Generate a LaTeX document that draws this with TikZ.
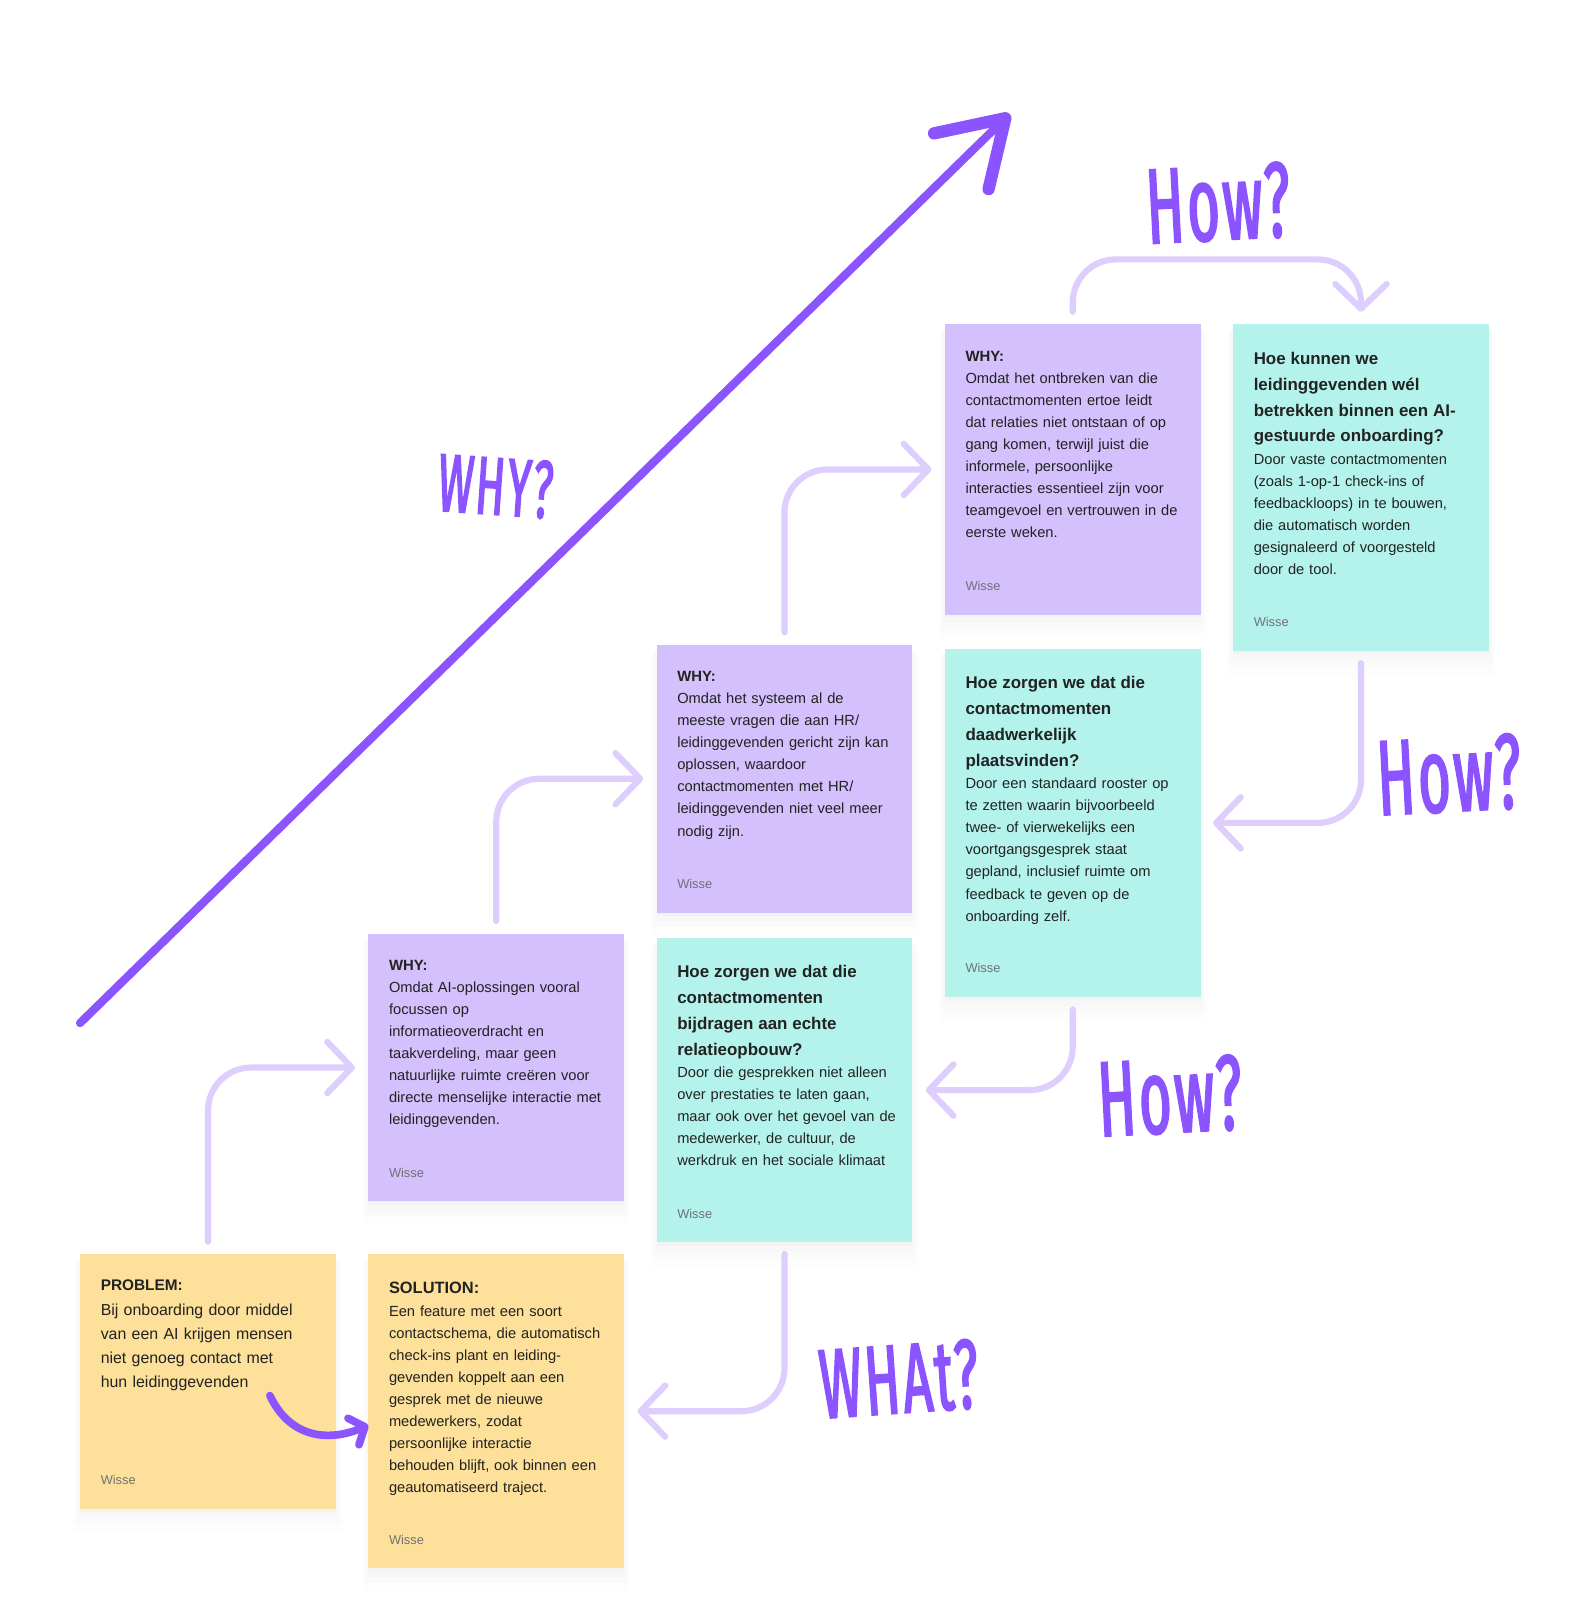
\documentclass[tikz,border=0pt]{standalone}
\usepackage{fontspec}
\setmainfont{Liberation Sans}
\newfontfamily\handfont[FakeStretch=0.52, FakeBold=1.8, LetterSpace=3]{Fira Sans}
\usetikzlibrary{arrows.meta, positioning, shadows}
\definecolor{noteyellow}{RGB}{253,224,153}
\definecolor{notepurple}{RGB}{211,192,252}
\definecolor{noteteal}{RGB}{180,243,236}
\definecolor{linkpurple}{RGB}{221,206,253}
\definecolor{markerpurple}{RGB}{139,84,255}
\definecolor{inkdark}{RGB}{34,34,34}
\definecolor{footgray}{RGB}{112,112,118}

\begin{document}
\begin{tikzpicture}[
    x=1pt, y=-1pt,
    note/.style={
        rectangle,
        anchor=north west,
        minimum width=249pt,
        inner sep=0pt,
        drop shadow={shadow xshift=0pt, shadow yshift=-15pt, shadow scale=1.05, opacity=0.012},
        drop shadow={shadow xshift=0pt, shadow yshift=-10pt, shadow scale=1.03, opacity=0.018},
        drop shadow={shadow xshift=0pt, shadow yshift=-6pt, shadow scale=1.015, opacity=0.025},
        drop shadow={shadow xshift=0pt, shadow yshift=-3pt, opacity=0.03}
    },
    yellownote/.style={note, fill=noteyellow},
    purplenote/.style={note, fill=notepurple},
    tealnote/.style={note, fill=noteteal},
    notetext/.style={
        anchor=base west,
        text width=240pt,
        align=left,
        inner sep=0pt,
        text=inkdark,
        font=\fontsize{14.3}{21.5}\selectfont
    },
    foot/.style={anchor=base west, inner sep=0pt, text=footgray, font=\fontsize{12.5}{15}\selectfont},
    link/.style={line width=6pt, linkpurple, line cap=round, rounded corners=42pt,
        -{Straight Barb[length=24pt, width=50pt, round]}},
    marker/.style={markerpurple, line width=8pt, line cap=round, line join=round},
    hand/.style={text=markerpurple, inner sep=0pt}
]
\useasboundingbox (0,0) rectangle (1546,1568);
\fill[white] (0,0) rectangle (1546,1568);

% ---------- notes ----------
\node[yellownote, minimum height=248pt] (problem) at (78,1222) {};
\node[yellownote, minimum height=306pt, right=31.5pt of problem.north east, anchor=north west] (solution) {};
\node[purplenote, minimum height=261pt, above=51pt of solution] (why1) {};
\node[tealnote, minimum height=297pt, right=31.5pt of why1.north east, anchor=north west, yshift=-4pt] (hoerel) {};
\node[purplenote, minimum height=261pt, above=24pt of hoerel] (why2) {};
\node[tealnote, minimum height=339pt, right=31.5pt of why2.north east, anchor=north west, yshift=-4pt] (hoeplaats) {};
\node[purplenote, minimum height=283pt, above=33pt of hoeplaats] (why3) {};
\node[tealnote, minimum height=318pt, right=31.5pt of why3.north east, anchor=north west] (hoekunnen) {};

% ---------- note texts ----------
\node[notetext, font=\fontsize{15.5}{23.5}\selectfont] (problemtxt) at ([shift={(20pt,-36pt)}]problem.north west)
    {{\bfseries\fontsize{15}{23.5}\selectfont PROBLEM:\par}
     Bij onboarding door middel\\ van een AI krijgen mensen\\ niet genoeg contact met\\ hun leidinggevenden};
\node[notetext] (solutiontxt) at ([shift={(20pt,-39pt)}]solution.north west)
    {{\bfseries\fontsize{16}{23}\selectfont SOLUTION:\par}
     Een feature met een soort\\ contactschema, die automatisch\\ check-ins plant en leiding-\\ gevenden koppelt aan een\\
     gesprek met de nieuwe\\ medewerkers, zodat\\ persoonlijke interactie\\ behouden blijft, ook binnen een\\ geautomatiseerd traject.};
\node[notetext] (why1txt) at ([shift={(20pt,-36pt)}]why1.north west)
    {{\bfseries\fontsize{14.5}{23}\selectfont WHY:\par}
     Omdat AI-oplossingen vooral\\ focussen op\\ informatieoverdracht en\\ taakverdeling, maar geen\\
     natuurlijke ruimte creëren voor\\ directe menselijke interactie met\\ leidinggevenden.};
\node[notetext] (why2txt) at ([shift={(20pt,-36pt)}]why2.north west)
    {{\bfseries\fontsize{14.5}{23}\selectfont WHY:\par}
     Omdat het systeem al de\\ meeste vragen die aan HR/\\ leidinggevenden gericht zijn kan\\ oplossen, waardoor\\
     contactmomenten met HR/\\ leidinggevenden niet veel meer\\ nodig zijn.};
\node[notetext] (why3txt) at ([shift={(20pt,-36pt)}]why3.north west)
    {{\bfseries\fontsize{14.5}{23}\selectfont WHY:\par}
     Omdat het ontbreken van die\\ contactmomenten ertoe leidt\\ dat relaties niet ontstaan of op\\ gang komen, terwijl juist die\\
     informele, persoonlijke\\ interacties essentieel zijn voor\\ teamgevoel en vertrouwen in de\\ eerste weken.};
\node[notetext] (hoereltxt) at ([shift={(20pt,-39pt)}]hoerel.north west)
    {{\bfseries\fontsize{16.5}{25.3}\selectfont Hoe zorgen we dat die\\ contactmomenten\\ bijdragen aan echte\\ relatieopbouw?\par}
     Door die gesprekken niet alleen\\ over prestaties te laten gaan,\\ maar ook over het gevoel van de\\
     medewerker, de cultuur, de\\ werkdruk en het sociale klimaat};
\node[notetext] (hoeplaatstxt) at ([shift={(20pt,-39pt)}]hoeplaats.north west)
    {{\bfseries\fontsize{16.5}{25.3}\selectfont Hoe zorgen we dat die\\ contactmomenten\\ daadwerkelijk\\ plaatsvinden?\par}
     Door een standaard rooster op\\ te zetten waarin bijvoorbeeld\\ twee- of vierwekelijks een\\ voortgangsgesprek staat\\
     gepland, inclusief ruimte om\\ feedback te geven op de\\ onboarding zelf.};
\node[notetext] (hoekunnentxt) at ([shift={(20pt,-39pt)}]hoekunnen.north west)
    {{\bfseries\fontsize{16.5}{25.3}\selectfont Hoe kunnen we\\ leidinggevenden wél\\ betrekken binnen een AI-\\ gestuurde onboarding?\par}
     Door vaste contactmomenten\\ (zoals 1-op-1 check-ins of\\ feedbackloops) in te bouwen,\\ die automatisch worden\\
     gesignaleerd of voorgesteld\\ door de tool.};

% ---------- author tags ----------
\foreach \n in {problem, solution, why1, why2, why3, hoerel, hoeplaats, hoekunnen}
    \node[foot] (\n foot) at ([shift={(20pt,23.5pt)}]\n.south west) {Wisse};

% ---------- connectors ----------
\draw[link] ([yshift=12pt]problem.north) |- ([xshift=-13pt]why1.west);
\draw[link] ([yshift=12pt]why1.north) |- ([xshift=-13pt]why2.west);
\draw[link] ([yshift=12pt]why2.north) |- ([xshift=-13pt]why3.west);
\draw[link] ([yshift=12pt]why3.north) -- ++(0,-51) -| ([yshift=12pt]hoekunnen.north);
\draw[link] ([yshift=-12pt]hoekunnen.south) |- ([xshift=12pt]hoeplaats.east);
\draw[link] ([yshift=-12pt]hoeplaats.south) |- ([xshift=13pt]hoerel.east);
\draw[link] ([yshift=-11pt]hoerel.south) |- ([xshift=13pt]solution.east);

% ---------- marker strokes ----------
\coordinate (trendstart) at (78,997);
\coordinate (trendtip) at (984,111);
\draw[marker, -{Straight Barb[length=60pt, width=76pt, round, line width=12pt]}] (trendstart) -- (trendtip);

\coordinate (curlstart) at (263,1360);
\coordinate (curltip) at (359,1389);
\draw[marker, line width=7.5pt, -{Straight Barb[length=12pt, width=28pt, round]}]
    (curlstart) .. controls (282,1400) and (318,1406) .. (curltip);

% ---------- handwritten labels ----------
\node[hand, font=\handfont\fontsize{80}{80}\selectfont, rotate=-4] (whylabel) at (483,474) {WHY?};
\node[hand, font=\handfont\fontsize{104}{104}\selectfont, rotate=3] (howtop) at (1187,198) {How?};
\node[hand, font=\handfont\fontsize{104}{104}\selectfont, rotate=3] (howright) at (1412,755) {How?};
\node[hand, font=\handfont\fontsize{104}{104}\selectfont, rotate=3] (howmid) at (1140,1068) {How?};
\node[hand, font=\handfont\fontsize{96}{96}\selectfont, rotate=4] (whatlabel) at (876,1344) {WHAt?};

\end{tikzpicture}
\end{document}
